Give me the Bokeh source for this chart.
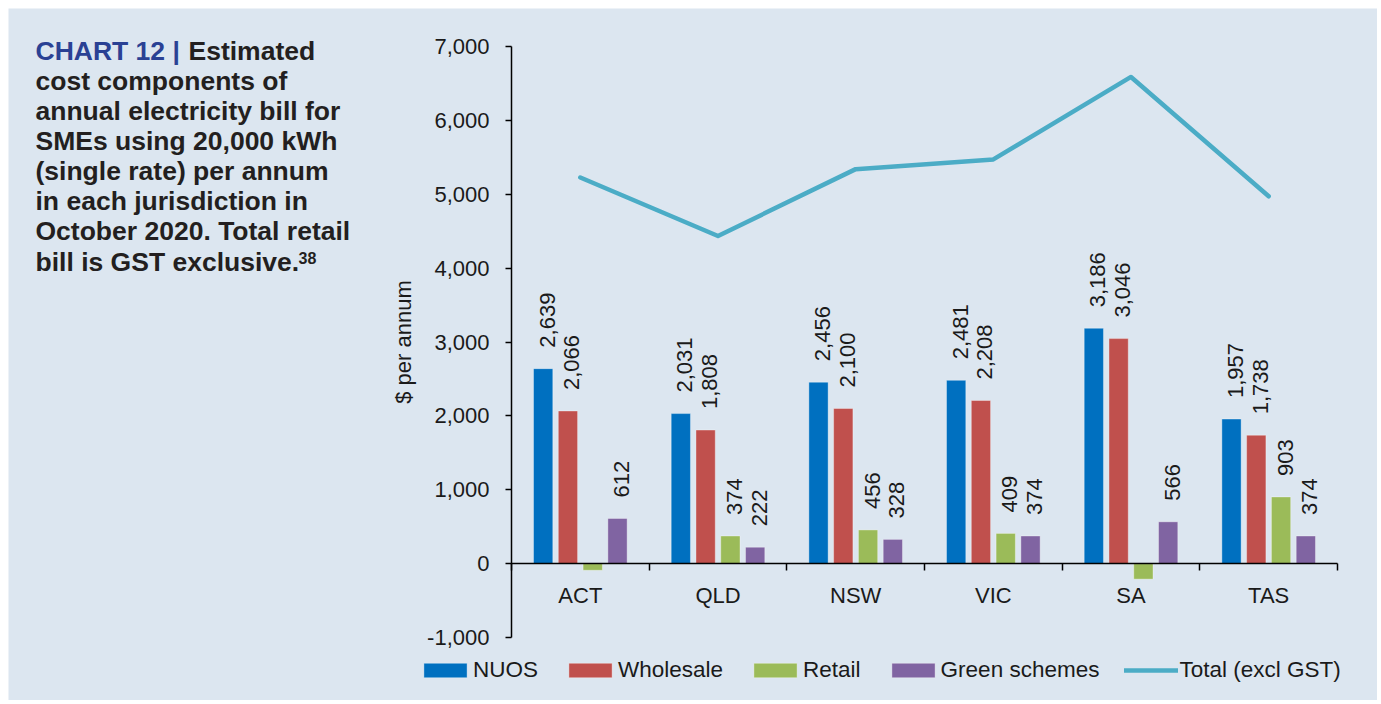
import math
from bokeh.plotting import figure
from bokeh.models import (ColumnDataSource, FixedTicker, NumeralTickFormatter,
                          Legend, LegendItem, Label, Range1d)
from bokeh.core.properties import value
from bokeh.embed import file_html
from bokeh.resources import INLINE

# ---------------- data ----------------
categories = ["ACT", "QLD", "NSW", "VIC", "SA", "TAS"]
nuos = [2639, 2031, 2456, 2481, 3186, 1957]
wholesale = [2066, 1808, 2100, 2208, 3046, 1738]
retail = [-90, 374, 456, 409, -210, 903]
green_schemes = [612, 222, 328, 374, 566, 374]
total_excl_gst = [5227, 4435, 5340, 5472, 6588, 4972]
y_ticks = [-1000, 0, 1000, 2000, 3000, 4000, 5000, 6000, 7000]
series_names = ["NUOS", "Wholesale", "Retail", "Green schemes"]
total_name = "Total (excl GST)"
y_label = "$ per annum"

title_lines = [
    "cost components of",
    "annual electricity bill for",
    "SMEs using 20,000 kWh",
    "(single rate) per annum",
    "in each jurisdiction in",
    "October 2020. Total retail",
    "bill is GST exclusive.",
]
title_prefix = "CHART 12 |"
title_first = "Estimated"
title_note = "38"

# ---------------- style / layout ----------------
BG = "#dce6f0"
TXT = "#1a1a1a"
FONT = "Liberation Sans"
colors = ["#0070c0", "#c0504d", "#9bbb59", "#8064a2"]
line_color = "#4bacc6"
offsets = [-0.27, -0.09, 0.09, 0.27]
bar_w = 0.14

W, H = 1369, 692
OX, OY = 8, 8                     # canvas origin on the page
AX_L, AX_R = 511, 1337            # page x of category axis ends
AX_T, AX_B = 46, 637              # page y of y-axis top / bottom
Y_LO, Y_HI = y_ticks[0], y_ticks[-1]
NCAT = len(categories)

ppx = (AX_R - AX_L) / NCAT
ppy = (AX_B - AX_T) / (Y_HI - Y_LO)
x_start = 0 - (AX_L - OX) / ppx
x_end = NCAT + (OX + W - AX_R) / ppx
y_end = Y_HI + (AX_T - OY) / ppy
y_start = Y_LO - (OY + H - AX_B) / ppy


def px(page_x):
    return x_start + (page_x - OX) / ppx


def py(page_y):
    return y_end - (page_y - OY) / ppy


p = figure(width=W, height=H, output_backend="svg", toolbar_location=None,
           x_range=Range1d(x_start, x_end), y_range=Range1d(y_start, y_end),
           min_border_left=0, min_border_right=0, min_border_top=0,
           min_border_bottom=0,
           background_fill_color=BG, border_fill_color=BG,
           outline_line_color=None)
p.margin = (8, 4, 4, 8)
p.xgrid.visible = False
p.ygrid.visible = False

series_vals = [nuos, wholesale, retail, green_schemes]
legend_items = []
for name, vals, col, off in zip(series_names, series_vals, colors, offsets):
    xs = [i + 0.5 + off for i in range(NCAT)]
    src = ColumnDataSource(dict(
        x=xs, top=vals,
        ly=[v if v > 0 else 0 for v in vals],
        lt=[f"{v:,}" if v > 0 else "" for v in vals],
    ))
    r = p.vbar(x="x", top="top", bottom=0, width=bar_w, source=src,
               fill_color=col, line_color="white", line_alpha=0.35, line_width=1)
    p.text(x="x", y="ly", text="lt", source=src, angle=math.pi / 2,
           text_align="left", text_baseline="middle", x_offset=4, y_offset=-21,
           text_font=value(FONT), text_font_size="22px", text_color=TXT)
    legend_items.append(LegendItem(label=name, renderers=[r]))

tsrc = ColumnDataSource(dict(x=[i + 0.5 for i in range(NCAT)], y=total_excl_gst))
lr = p.line(x="x", y="y", source=tsrc, line_color=line_color, line_width=4.5,
            line_cap="round", line_join="round")
legend_items.append(LegendItem(label=total_name, renderers=[lr]))

# ---------------- axes ----------------
xa = p.xaxis[0]
xa.fixed_location = 0
xa.bounds = (0, NCAT)
xa.ticker = FixedTicker(ticks=[i + 0.5 for i in range(NCAT)],
                        minor_ticks=list(range(NCAT + 1)))
xa.major_label_overrides = {i + 0.5: c for i, c in enumerate(categories)}
xa.major_tick_in = 0
xa.major_tick_out = 0
xa.minor_tick_in = 0
xa.minor_tick_out = 7
xa.minor_tick_line_color = "black"
xa.minor_tick_line_width = 1.5
xa.axis_line_color = "black"
xa.axis_line_width = 1.5
xa.major_label_standoff = 12
xa.major_label_text_font = FONT
xa.major_label_text_font_size = "22px"
xa.major_label_text_color = TXT

ya = p.yaxis[0]
ya.fixed_location = 0
ya.bounds = (Y_LO, Y_HI)
ya.ticker = FixedTicker(ticks=y_ticks, minor_ticks=[])
ya.formatter = NumeralTickFormatter(format="0,0")
ya.major_tick_in = 0
ya.major_tick_out = 6
ya.major_tick_line_width = 1.5
ya.major_tick_line_color = "black"
ya.axis_line_color = "black"
ya.axis_line_width = 1.5
ya.major_label_standoff = 16
ya.major_label_text_font = FONT
ya.major_label_text_font_size = "22px"
ya.major_label_text_color = TXT
ya.axis_label = y_label
ya.axis_label_text_font = FONT
ya.axis_label_text_font_size = "22px"
ya.axis_label_text_font_style = "normal"
ya.axis_label_text_color = TXT
ya.axis_label_standoff = 8

# ---------------- legend ----------------
legend = Legend(items=legend_items, orientation="horizontal",
                location=(418 - OX, OY + H - 683),
                glyph_width=54, glyph_height=18, label_standoff=1, spacing=25,
                padding=0, margin=0, border_line_alpha=0, background_fill_alpha=0,
                label_text_font=FONT, label_text_font_size="22.5px",
                label_text_color=TXT, label_height=22)
p.add_layout(legend, "center")

# ---------------- title ----------------
def add_label(text, page_x, page_yc, size, color):
    p.add_layout(Label(x=px(page_x), y=py(page_yc), text=text,
                       text_font=FONT, text_font_size=size,
                       text_font_style="bold",
                       text_color=color, text_baseline="alphabetic",
                       text_align="left"))

LINE_GAP = 30.15
add_label(title_prefix, 35, 50, "26.5px", "#2a4194")
add_label(title_first, 188, 50, "26.5px", "#231f20")
for j, line in enumerate(title_lines):
    add_label(line, 35, 50 + LINE_GAP * (j + 1), "26.5px", "#231f20")
add_label(title_note, 298, 257, "16px", "#231f20")

open("out.html", "w").write(file_html(p, INLINE))
